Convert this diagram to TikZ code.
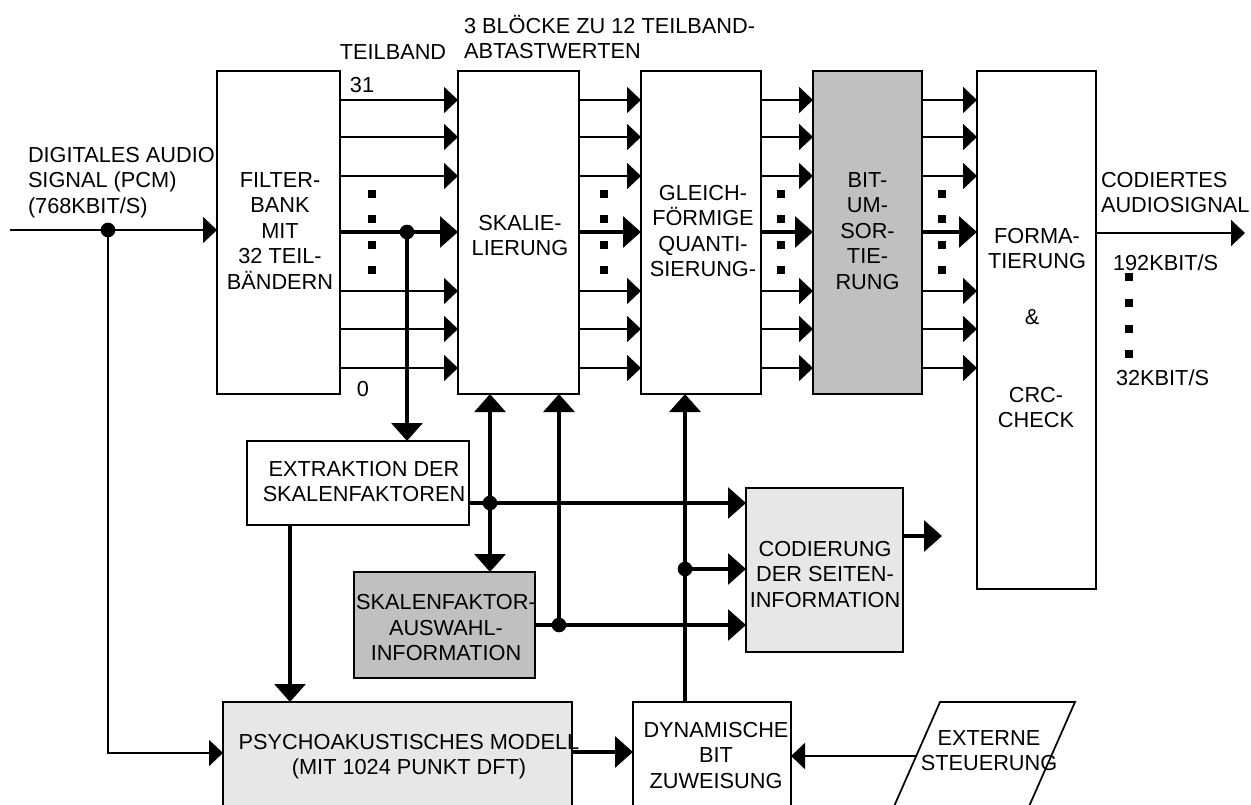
\documentclass[tikz,border=0pt]{standalone}
\usepackage{fontspec}
\setmainfont{Liberation Sans}
\usetikzlibrary{arrows.meta,fit}
\definecolor{midgray}{RGB}{192,192,192}
\definecolor{paleGray}{RGB}{231,231,231}
\tikzset{
  box/.style={draw, line width=1.3pt, inner sep=0pt, outer sep=0pt},
  txt/.style={inner sep=0pt, outer sep=0pt, align=center},
  thinline/.style={line width=1.4pt},
  thickline/.style={line width=3.2pt},
  tarrow/.style={thinline, -{Triangle[length=10.5pt,width=19.5pt]}},
  Tarrow/.style={thickline, -{Triangle[length=13.5pt,width=23pt]}},
  Tdouble/.style={thickline, {Triangle[length=13.5pt,width=23pt]}-{Triangle[length=13.5pt,width=23pt]}},
  Tback/.style={thickline, {Triangle[length=13.5pt,width=23pt]}-},
  jdot/.style={circle, fill, inner sep=0pt, minimum size=11pt},
  sqdot/.style={fill, inner sep=0pt, minimum size=6pt},
}
\begin{document}
\begin{tikzpicture}[x=0.75pt,y=-0.75pt,font=\fontsize{16.3}{19.1}\selectfont]
\useasboundingbox (0,0) rectangle (1251,805);
\clip (0,0) rectangle (1251,805);

% boxes
\node[box, fit={(217,71)(340,394)}] (filt) {};
\node[box, fit={(458,71)(579,394)}] (skal) {};
\node[box, fit={(641,71)(761,394)}] (gleich) {};
\node[box, fill=midgray, fit={(813,71)(922,394)}] (bitum) {};
\node[box, fit={(977,71)(1096,589)}] (form) {};
\node[box, fit={(247,441)(469,525)}] (extr) {};
\node[box, fill=midgray, fit={(354,572)(535,678)}] (ska) {};
\node[box, fill=paleGray, fit={(746,488)(903,652)}] (cod) {};
\node[box, fill=paleGray, fit={(223,702)(572,820)}] (psy) {};
\node[box, fit={(633,702)(791,820)}] (dyn) {};
\draw[line width=1.3pt] (888,820) -- (940,702) -- (1075,702) -- (1023,820);
\coordinate (extin) at (917,756);

% box texts
\node[txt, anchor=north] (tfilt) at (280,172.2) {FILTER-\\BANK\\MIT\\32 TEIL-\\BÄNDERN};
\node[txt, anchor=north] (tskal) at (520,215.2) {SKALIE-\\LIERUNG};
\node[txt, anchor=north] (tgleich) at (703,185.2) {GLEICH-\\FÖRMIGE\\QUANTI-\\SIERUNG-};
\node[txt, anchor=north] (tbit) at (867.5,172.2) {BIT-\\UM-\\SOR-\\TIE-\\RUNG};
\node[txt, anchor=north] (tform) at (1037,228.2) {FORMA-\\TIERUNG};
\node[txt] (tamp) at (1032,317) {\&};
\node[txt, anchor=north] (tcrc) at (1036,387.2) {CRC-\\CHECK};
\node[txt, anchor=north] (textr) at (364,461.2) {EXTRAKTION DER\\SKALENFAKTOREN};
\node[txt, anchor=north] (tska) at (446,594.5) {SKALENFAKTOR-\\AUSWAHL-\\INFORMATION};
\node[txt, anchor=north] (tcod) at (825,541.2) {CODIERUNG\\DER SEITEN-\\INFORMATION};
\node[txt, anchor=north] (tpsy) at (409,734.2) {PSYCHOAKUSTISCHES MODELL\\(MIT 1024 PUNKT DFT)};
\node[txt, anchor=north] (tdyn) at (716,722.2) {DYNAMISCHE\\BIT\\ZUWEISUNG};
\node[txt, anchor=north] (text) at (989,730.2) {EXTERNE\\STEUERUNG};

% free labels
\node[txt, anchor=north west, align=left] (lblin) at (28,147.2) {DIGITALES AUDIO\\SIGNAL (PCM)\\(768KBIT/S)};
\node[txt] (lblteil) at (393,52) {TEILBAND};
\node[txt] (lbl31) at (362,85) {31};
\node[txt] (lbl0) at (363,389) {0};
\node[txt, anchor=south west, align=left] (lblblk) at (464,58.8) {3 BLÖCKE ZU 12 TEILBAND-\\ABTASTWERTEN};
\node[txt, anchor=north west, align=left] (lblout) at (1101,172.2) {CODIERTES\\AUDIOSIGNAL};
\node[txt, anchor=base west] (lbl192) at (1113,270.8) {192KBIT/S};
\node[txt, anchor=base west] (lbl32) at (1116,385.8) {32KBIT/S};

% subband arrows
\foreach \y in {100,137,176,291,329,368} {
  \draw[tarrow] (filt.east |- 0,\y) -- (skal.west |- 0,\y);
  \draw[tarrow] (skal.east |- 0,\y) -- (gleich.west |- 0,\y);
  \draw[tarrow] (gleich.east |- 0,\y) -- (bitum.west |- 0,\y);
  \draw[tarrow] (bitum.east |- 0,\y) -- (form.west |- 0,\y);
}
\draw[Tarrow] (filt.east |- 0,232) -- (skal.west |- 0,232);
\draw[Tarrow] (skal.east |- 0,232) -- (gleich.west |- 0,232);
\draw[Tarrow] (gleich.east |- 0,232) -- (bitum.west |- 0,232);
\draw[Tarrow] (bitum.east |- 0,232) -- (form.west |- 0,232);

% dots
\foreach \x in {372,604,781,942} {
  \foreach \y in {194,219,245,270} {
    \node[sqdot] (d\x-\y) at (\x,\y) {};
  }
}
\foreach \y in {277,303,329,354} {
  \node[sqdot] (o\y) at (1129,\y) {};
}

% input
\coordinate (inp) at (10,230);
\coordinate (j0) at (108,230);
\draw[tarrow] (inp) -- (filt.west |- inp);
\draw[tarrow] (j0) |- (psy.west |- 0,753);
\node[jdot] (n0) at (j0) {};

% filter bank to extraction
\coordinate (j1) at (407,232);
\draw[Tarrow] (j1) -- (j1 |- extr.north);
\node[jdot] (n1) at (j1) {};

% extraction to psycho
\draw[Tarrow] (extr.south -| 290,0) -- (psy.north -| 290,0);

% scale factor paths
\coordinate (j2) at (490,503);
\draw[Tdouble] (skal.south -| j2) -- (ska.north -| j2);
\draw[Tarrow] (extr.east |- j2) -- (cod.west |- j2);
\node[jdot] (n2) at (j2) {};

\coordinate (j3) at (559,625);
\draw[Tback] (skal.south -| j3) -- (j3);
\draw[Tarrow] (ska.east |- j3) -- (cod.west |- j3);
\node[jdot] (n3) at (j3) {};

\coordinate (j4) at (685,569);
\draw[Tarrow] (dyn.north -| j4) -- (gleich.south -| j4);
\draw[Tarrow] (j4) -- (cod.west |- j4);
\node[jdot] (n4) at (j4) {};

% side info output
\coordinate (codout) at (942,536);
\draw[Tarrow] (cod.east |- codout) -- (codout);

% psycho to dyn, ext to dyn
\draw[Tarrow] (psy.east |- 0,752) -- (dyn.west |- 0,752);
\draw[tarrow] (extin) -- (dyn.east |- extin);

% output
\coordinate (outp) at (1245,233);
\draw[tarrow] (form.east |- outp) -- (outp);
\end{tikzpicture}
\end{document}
